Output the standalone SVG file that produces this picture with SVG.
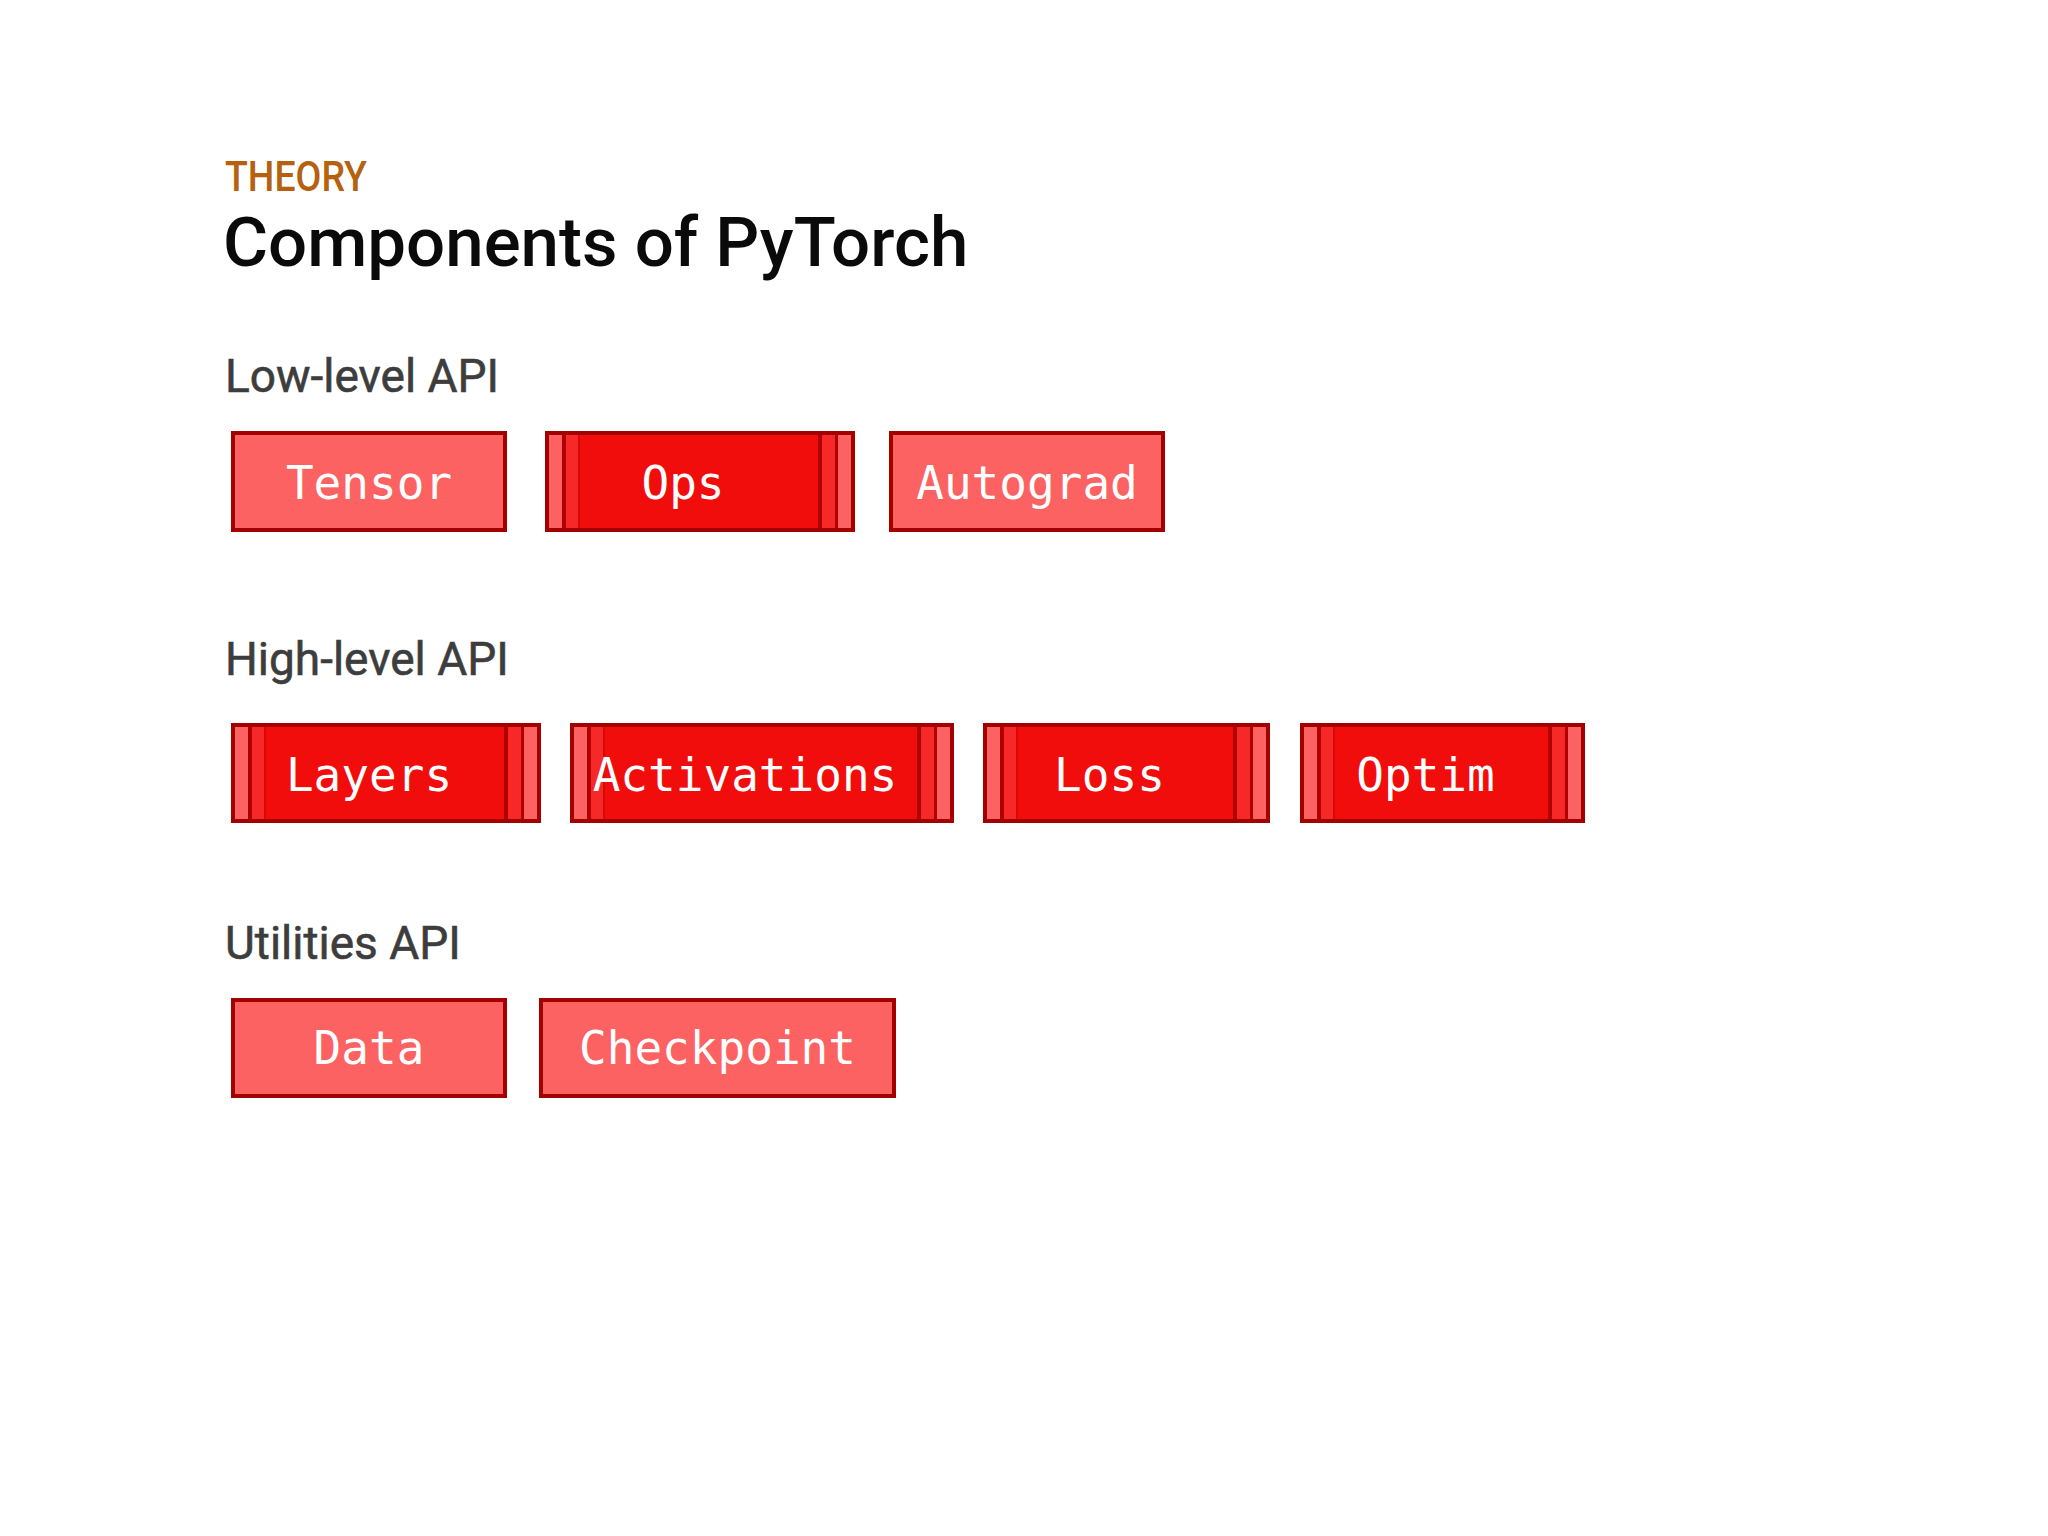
<svg xmlns="http://www.w3.org/2000/svg" width="2048" height="1536" viewBox="0 0 2048 1536">
<style>
.bg{fill:#ffffff}
.kicker{font-family:Roboto,"Liberation Sans",sans-serif;font-size:43px;font-weight:500;fill:#b5610f}
.title{font-family:Roboto,"Liberation Sans",sans-serif;font-size:69px;font-weight:500;fill:#0a0a0a}
.section{font-family:Roboto,"Liberation Sans",sans-serif;font-size:46px;fill:#3d3d3d;stroke:#3d3d3d;stroke-width:0.6}
.plain{fill:#fc6262;stroke:#a30000;stroke-width:4}
.main{fill:#f20d0d;stroke:#a30000;stroke-width:4}
.light{fill:#fc6262}
.med{fill:#f62828}
.dark{fill:#b00000}
.faint{fill:#d80808}
.label{font-family:"DejaVu Sans Mono","Liberation Mono",monospace;font-size:46px;fill:#ffffff;text-anchor:middle}
</style>
<rect class="bg" x="0" y="0" width="2048" height="1536"/>
<g id="header">
<text class="kicker" x="225" y="191" textLength="142" lengthAdjust="spacingAndGlyphs">THEORY</text>
<text class="title" x="223" y="266">Components of PyTorch</text>
</g>
<g id="section-labels">
<text class="section" x="225" y="392">Low-level API</text>
<text class="section" x="225" y="675">High-level API</text>
<text class="section" x="225" y="959">Utilities API</text>
</g>
<g id="connectors"></g>
<g id="tensor" transform="translate(231,431)">
<rect class="plain" x="2" y="2" width="272" height="97"/>
<text class="label" x="138" y="68">Tensor</text>
</g>
<g id="ops" transform="translate(545,431)">
<rect class="main" x="2" y="2" width="306" height="97"/>
<rect class="light" x="4" y="4" width="13" height="93"/>
<rect class="dark" x="17" y="4" width="4" height="93"/>
<rect class="med" x="21" y="4" width="12" height="93"/>
<rect class="faint" x="33" y="4" width="2" height="93"/>
<rect class="dark" x="273" y="4" width="4" height="93"/>
<rect class="med" x="277" y="4" width="13" height="93"/>
<rect class="dark" x="290" y="4" width="3" height="93"/>
<rect class="light" x="293" y="4" width="13" height="93"/>
<text class="label" x="138" y="68">Ops</text>
</g>
<g id="autograd" transform="translate(889,431)">
<rect class="plain" x="2" y="2" width="272" height="97"/>
<text class="label" x="138" y="68">Autograd</text>
</g>
<g id="layers" transform="translate(231,723)">
<rect class="main" x="2" y="2" width="306" height="96"/>
<rect class="light" x="4" y="4" width="13" height="92"/>
<rect class="dark" x="17" y="4" width="4" height="92"/>
<rect class="med" x="21" y="4" width="12" height="92"/>
<rect class="faint" x="33" y="4" width="2" height="92"/>
<rect class="dark" x="273" y="4" width="4" height="92"/>
<rect class="med" x="277" y="4" width="13" height="92"/>
<rect class="dark" x="290" y="4" width="3" height="92"/>
<rect class="light" x="293" y="4" width="13" height="92"/>
<text class="label" x="138" y="68">Layers</text>
</g>
<g id="activations" transform="translate(570,723)">
<rect class="main" x="2" y="2" width="380" height="96"/>
<rect class="light" x="4" y="4" width="13" height="92"/>
<rect class="dark" x="17" y="4" width="4" height="92"/>
<rect class="med" x="21" y="4" width="12" height="92"/>
<rect class="faint" x="33" y="4" width="2" height="92"/>
<rect class="dark" x="347" y="4" width="4" height="92"/>
<rect class="med" x="351" y="4" width="13" height="92"/>
<rect class="dark" x="364" y="4" width="3" height="92"/>
<rect class="light" x="367" y="4" width="13" height="92"/>
<text class="label" x="175" y="68">Activations</text>
</g>
<g id="loss" transform="translate(983,723)">
<rect class="main" x="2" y="2" width="283" height="96"/>
<rect class="light" x="4" y="4" width="13" height="92"/>
<rect class="dark" x="17" y="4" width="4" height="92"/>
<rect class="med" x="21" y="4" width="12" height="92"/>
<rect class="faint" x="33" y="4" width="2" height="92"/>
<rect class="dark" x="250" y="4" width="4" height="92"/>
<rect class="med" x="254" y="4" width="13" height="92"/>
<rect class="dark" x="267" y="4" width="3" height="92"/>
<rect class="light" x="270" y="4" width="13" height="92"/>
<text class="label" x="126.5" y="68">Loss</text>
</g>
<g id="optim" transform="translate(1300,723)">
<rect class="main" x="2" y="2" width="281" height="96"/>
<rect class="light" x="4" y="4" width="13" height="92"/>
<rect class="dark" x="17" y="4" width="4" height="92"/>
<rect class="med" x="21" y="4" width="12" height="92"/>
<rect class="faint" x="33" y="4" width="2" height="92"/>
<rect class="dark" x="248" y="4" width="4" height="92"/>
<rect class="med" x="252" y="4" width="13" height="92"/>
<rect class="dark" x="265" y="4" width="3" height="92"/>
<rect class="light" x="268" y="4" width="13" height="92"/>
<text class="label" x="125.5" y="68">Optim</text>
</g>
<g id="data" transform="translate(231,998)">
<rect class="plain" x="2" y="2" width="272" height="96"/>
<text class="label" x="138" y="66">Data</text>
</g>
<g id="checkpoint" transform="translate(539,998)">
<rect class="plain" x="2" y="2" width="353" height="96"/>
<text class="label" x="178.5" y="66">Checkpoint</text>
</g>
</svg>
